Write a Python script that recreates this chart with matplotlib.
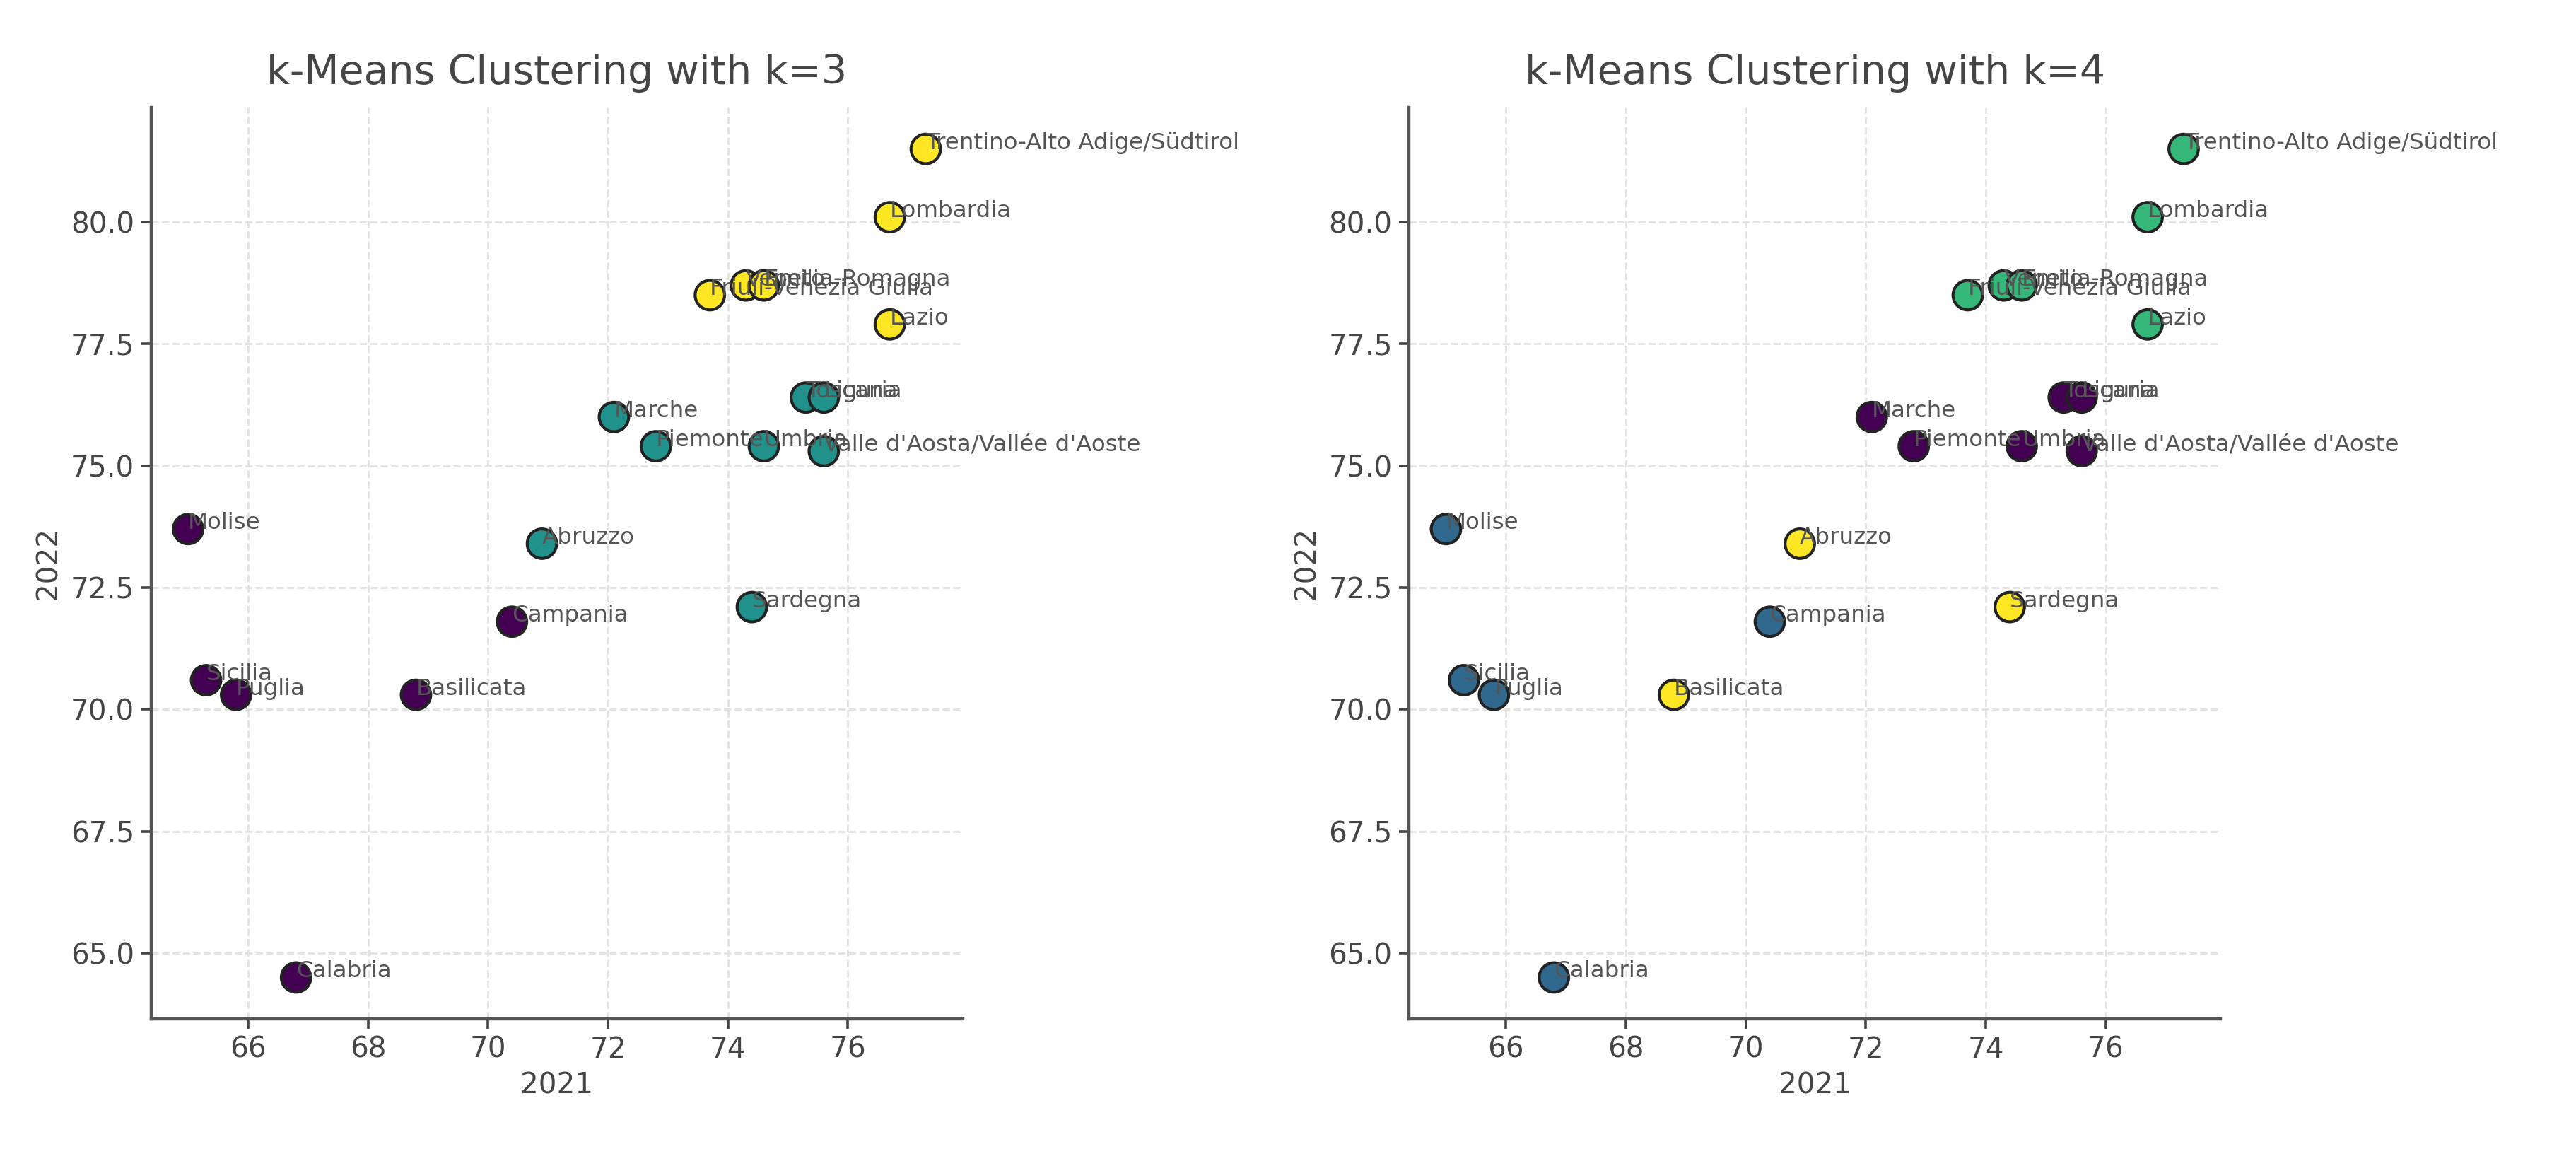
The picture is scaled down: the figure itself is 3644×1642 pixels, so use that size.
import numpy as np
import matplotlib.pyplot as plt

regions = ['Trentino-Alto Adige/Südtirol', 'Lombardia', 'Veneto', 'Emilia-Romagna',
           'Friuli-Venezia Giulia', 'Lazio', 'Toscana', 'Liguria', 'Marche', 'Piemonte',
           'Umbria', "Valle d'Aosta/Vallée d'Aoste", 'Molise', 'Abruzzo', 'Sardegna',
           'Campania', 'Sicilia', 'Puglia', 'Basilicata', 'Calabria']
x2021 = [77.3, 76.7, 74.3, 74.6, 73.7, 76.7, 75.3, 75.6, 72.1, 72.8,
         74.6, 75.6, 65.0, 70.9, 74.4, 70.4, 65.3, 65.8, 68.8, 66.8]
y2022 = [81.5, 80.1, 78.7, 78.7, 78.5, 77.9, 76.4, 76.4, 76.0, 75.4,
         75.4, 75.3, 73.7, 73.4, 72.1, 71.8, 70.6, 70.3, 70.3, 64.5]
clusters_k3 = [2, 2, 2, 2, 2, 2, 1, 1, 1, 1, 1, 1, 0, 1, 1, 0, 0, 0, 0, 0]
clusters_k4 = [2, 2, 2, 2, 2, 2, 0, 0, 0, 0, 0, 0, 1, 3, 3, 1, 1, 1, 3, 1]

text_col = '#454545'
plt.rcParams['text.color'] = text_col
plt.rcParams['axes.labelcolor'] = text_col
plt.rcParams['xtick.color'] = text_col
plt.rcParams['ytick.color'] = text_col

fig = plt.figure(figsize=(18.22, 8.21), dpi=200)
ax1 = fig.add_axes([0.0587, 0.1224, 0.315, 0.785])
ax2 = fig.add_axes([0.547, 0.1224, 0.315, 0.785])

for ax, labels, k in [(ax1, clusters_k3, 3), (ax2, clusters_k4, 4)]:
    ax.scatter(x2021, y2022, c=labels, cmap='viridis', s=225,
               edgecolors='#222222', linewidths=1.5, zorder=3)
    for name, xv, yv in zip(regions, x2021, y2022):
        ax.text(xv, yv, name, fontsize=11.7, color='#555555', zorder=4)

    ax.set_title('k-Means Clustering with k={}'.format(k), fontsize=20.5, pad=12)
    ax.set_xlabel('2021', fontsize=14.6)
    ax.set_ylabel('2022', fontsize=14.6)
    ax.set_xticks([66, 68, 70, 72, 74, 76])
    ax.set_yticks([65.0, 67.5, 70.0, 72.5, 75.0, 77.5, 80.0])
    ax.tick_params(labelsize=14.6, length=5, width=1.3, direction='out')

    ax.spines['top'].set_visible(False)
    ax.spines['right'].set_visible(False)
    ax.spines['left'].set_color('#555555')
    ax.spines['bottom'].set_color('#555555')
    ax.spines['left'].set_linewidth(1.6)
    ax.spines['bottom'].set_linewidth(1.6)
    ax.grid(True, linestyle='--', color='#e2e2e2', linewidth=1.0)
    ax.set_axisbelow(True)

fig.savefig('out.png', dpi=200)
